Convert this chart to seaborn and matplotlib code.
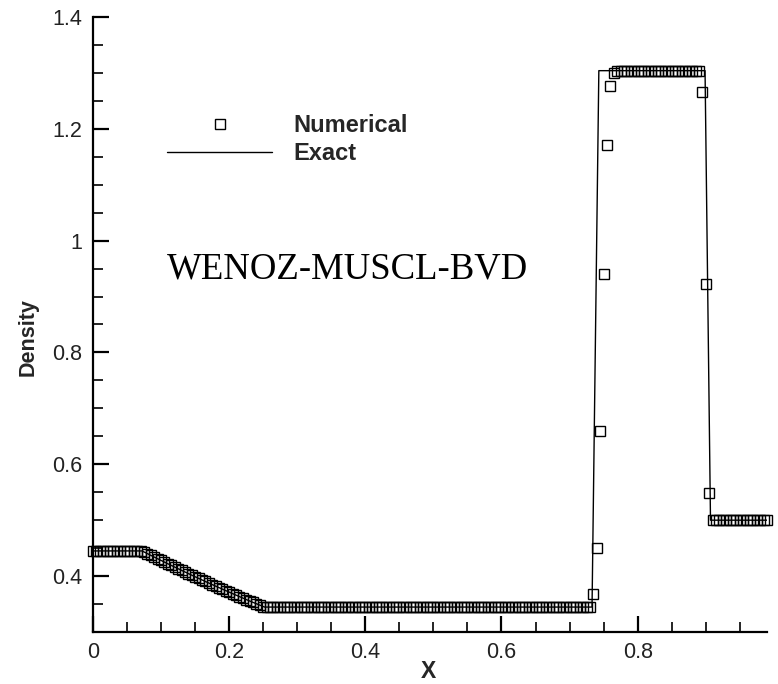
import matplotlib
matplotlib.use("Agg")
import matplotlib.pyplot as plt
from matplotlib.lines import Line2D
from matplotlib.ticker import MultipleLocator, FixedLocator, FixedFormatter
import seaborn as sns

# ---------------- data ----------------
x_num = [
    0.000, 0.005, 0.010, 0.015, 0.020, 0.025, 0.030, 0.035, 0.040, 0.045,
    0.050, 0.055, 0.060, 0.065, 0.070, 0.075, 0.080, 0.085, 0.090, 0.095,
    0.100, 0.105, 0.110, 0.115, 0.120, 0.125, 0.130, 0.135, 0.140, 0.145,
    0.150, 0.155, 0.160, 0.165, 0.170, 0.175, 0.180, 0.185, 0.190, 0.195,
    0.200, 0.205, 0.210, 0.215, 0.220, 0.225, 0.230, 0.235, 0.240, 0.245,
    0.250, 0.255, 0.260, 0.265, 0.270, 0.275, 0.280, 0.285, 0.290, 0.295,
    0.300, 0.305, 0.310, 0.315, 0.320, 0.325, 0.330, 0.335, 0.340, 0.345,
    0.350, 0.355, 0.360, 0.365, 0.370, 0.375, 0.380, 0.385, 0.390, 0.395,
    0.400, 0.405, 0.410, 0.415, 0.420, 0.425, 0.430, 0.435, 0.440, 0.445,
    0.450, 0.455, 0.460, 0.465, 0.470, 0.475, 0.480, 0.485, 0.490, 0.495,
    0.500, 0.505, 0.510, 0.515, 0.520, 0.525, 0.530, 0.535, 0.540, 0.545,
    0.550, 0.555, 0.560, 0.565, 0.570, 0.575, 0.580, 0.585, 0.590, 0.595,
    0.600, 0.605, 0.610, 0.615, 0.620, 0.625, 0.630, 0.635, 0.640, 0.645,
    0.650, 0.655, 0.660, 0.665, 0.670, 0.675, 0.680, 0.685, 0.690, 0.695,
    0.700, 0.705, 0.710, 0.715, 0.720, 0.725, 0.730, 0.735, 0.740, 0.745,
    0.750, 0.755, 0.760, 0.765, 0.770, 0.775, 0.780, 0.785, 0.790, 0.795,
    0.800, 0.805, 0.810, 0.815, 0.820, 0.825, 0.830, 0.835, 0.840, 0.845,
    0.850, 0.855, 0.860, 0.865, 0.870, 0.875, 0.880, 0.885, 0.890, 0.895,
    0.900, 0.905, 0.910, 0.915, 0.920, 0.925, 0.930, 0.935, 0.940, 0.945,
    0.950, 0.955, 0.960, 0.965, 0.970, 0.975, 0.980, 0.985, 0.990,
]
rho_num = [
    0.445, 0.445, 0.445, 0.445, 0.445, 0.445, 0.445, 0.445, 0.445, 0.445,
    0.445, 0.445, 0.445, 0.445, 0.445, 0.4436, 0.4401, 0.4370, 0.4340, 0.4310,
    0.4280, 0.4250, 0.4220, 0.4191, 0.4161, 0.4132, 0.4103, 0.4074, 0.4045, 0.4017,
    0.3988, 0.3960, 0.3932, 0.3904, 0.3876, 0.3849, 0.3821, 0.3794, 0.3767, 0.3740,
    0.3713, 0.3687, 0.3660, 0.3634, 0.3607, 0.3581, 0.3555, 0.3530, 0.3504, 0.3479,
    0.3455, 0.3447, 0.3446, 0.3446, 0.3446, 0.3446, 0.3446, 0.3446, 0.3446, 0.3446,
    0.3446, 0.3446, 0.3446, 0.3446, 0.3446, 0.3446, 0.3446, 0.3446, 0.3446, 0.3446,
    0.3446, 0.3446, 0.3446, 0.3446, 0.3446, 0.3446, 0.3446, 0.3446, 0.3446, 0.3446,
    0.3446, 0.3446, 0.3446, 0.3446, 0.3446, 0.3446, 0.3446, 0.3446, 0.3446, 0.3446,
    0.3446, 0.3446, 0.3446, 0.3446, 0.3446, 0.3446, 0.3446, 0.3446, 0.3446, 0.3446,
    0.3446, 0.3446, 0.3446, 0.3446, 0.3446, 0.3446, 0.3446, 0.3446, 0.3446, 0.3446,
    0.3446, 0.3446, 0.3446, 0.3446, 0.3446, 0.3446, 0.3446, 0.3446, 0.3446, 0.3446,
    0.3446, 0.3446, 0.3446, 0.3446, 0.3446, 0.3446, 0.3446, 0.3446, 0.3446, 0.3446,
    0.3446, 0.3446, 0.3446, 0.3446, 0.3446, 0.3446, 0.3446, 0.3446, 0.3446, 0.3446,
    0.3446, 0.3446, 0.3446, 0.3446, 0.3446, 0.3446, 0.3446, 0.368, 0.450, 0.659,
    0.941, 1.171, 1.277, 1.299, 1.303, 1.304, 1.304, 1.304, 1.304, 1.304,
    1.304, 1.304, 1.304, 1.304, 1.304, 1.304, 1.304, 1.304, 1.304, 1.304,
    1.304, 1.304, 1.304, 1.304, 1.304, 1.304, 1.304, 1.304, 1.303, 1.266,
    0.923, 0.548, 0.501, 0.500, 0.500, 0.500, 0.500, 0.500, 0.500, 0.500,
    0.500, 0.500, 0.500, 0.500, 0.500, 0.500, 0.500, 0.500, 0.500,
]
x_exact = [0.0, 0.072, 0.09, 0.11, 0.13, 0.15, 0.17, 0.19, 0.21, 0.23, 0.252,
           0.733, 0.743, 0.899, 0.907, 0.99]
rho_exact = [0.445, 0.445, 0.4340, 0.4220, 0.4103, 0.3988, 0.3876, 0.3767,
             0.3660, 0.3555, 0.3446, 0.3446, 1.304, 1.304, 0.5, 0.5]

x_ticks = [0, 0.2, 0.4, 0.6, 0.8]
x_tick_labels = ["0", "0.2", "0.4", "0.6", "0.8"]
y_ticks = [0.4, 0.6, 0.8, 1.0, 1.2, 1.4]
y_tick_labels = ["0.4", "0.6", "0.8", "1", "1.2", "1.4"]
legend_labels = ["Numerical", "Exact"]
annotation = "WENOZ-MUSCL-BVD"
x_label = "X"
y_label = "Density"

# ---------------- style ----------------
sns.set_style("ticks")
plt.rcParams["font.family"] = ["Liberation Sans", "DejaVu Sans"]

fig = plt.figure(figsize=(7.78, 6.84), dpi=100)
ax = fig.add_axes([93 / 778, 1 - 632 / 684, (767 - 93) / 778, (632 - 17) / 684])

sns.lineplot(x=x_exact, y=rho_exact, ax=ax, color="black", lw=1.0,
             sort=False, estimator=None)
sns.lineplot(x=x_num, y=rho_num, ax=ax, color="black", sort=False,
             estimator=None, ls="none", marker="s", markersize=7,
             markerfacecolor="none", markeredgecolor="black",
             markeredgewidth=1.0, clip_on=False)

ax.set_xlim(0, 0.99)
ax.set_ylim(0.3, 1.4)
ax.xaxis.set_major_locator(FixedLocator(x_ticks))
ax.xaxis.set_major_formatter(FixedFormatter(x_tick_labels))
ax.yaxis.set_major_locator(FixedLocator(y_ticks))
ax.yaxis.set_major_formatter(FixedFormatter(y_tick_labels))
ax.xaxis.set_minor_locator(MultipleLocator(0.05))
ax.yaxis.set_minor_locator(MultipleLocator(0.05))

for s in ["top", "right"]:
    ax.spines[s].set_visible(False)
for s in ["left", "bottom"]:
    ax.spines[s].set_linewidth(1.6)
    ax.spines[s].set_color("black")

ax.tick_params(which="major", direction="in", length=11.5, width=1.6,
               labelsize=15.5, labelcolor="#222222", color="black", pad=7)
ax.tick_params(which="minor", direction="in", length=7, width=1.2,
               color="black")
ax.tick_params(axis="y", which="major", pad=8)

ax.set_xlabel(x_label, fontsize=16.5, fontweight="bold")
ax.set_ylabel(y_label, fontsize=15.5, fontweight="bold")
ax.xaxis.set_label_coords(0.497, -0.045)
ax.yaxis.set_label_coords(-0.080, 0.48)

ax.text(0.109, 0.948, annotation, fontsize=26.5,
        family=["Liberation Serif", "DejaVu Serif"], va="center", ha="left",
        color="black")

handles = [
    Line2D([], [], ls="none", marker="s", markersize=6.5,
           markerfacecolor="none", markeredgecolor="black",
           markeredgewidth=1.0),
    Line2D([], [], ls="-", color="black", lw=1.0),
]
ax.legend(handles, legend_labels, loc="upper left",
          bbox_to_anchor=(167 / 778, 1 - 114 / 684),
          bbox_transform=fig.transFigure, frameon=False, borderpad=0,
          borderaxespad=0, handlelength=4.45, handletextpad=0.9,
          labelspacing=0.23, numpoints=1,
          prop={"family": ["Liberation Sans"], "weight": "bold", "size": 17})

fig.savefig("out.png", dpi=100)
